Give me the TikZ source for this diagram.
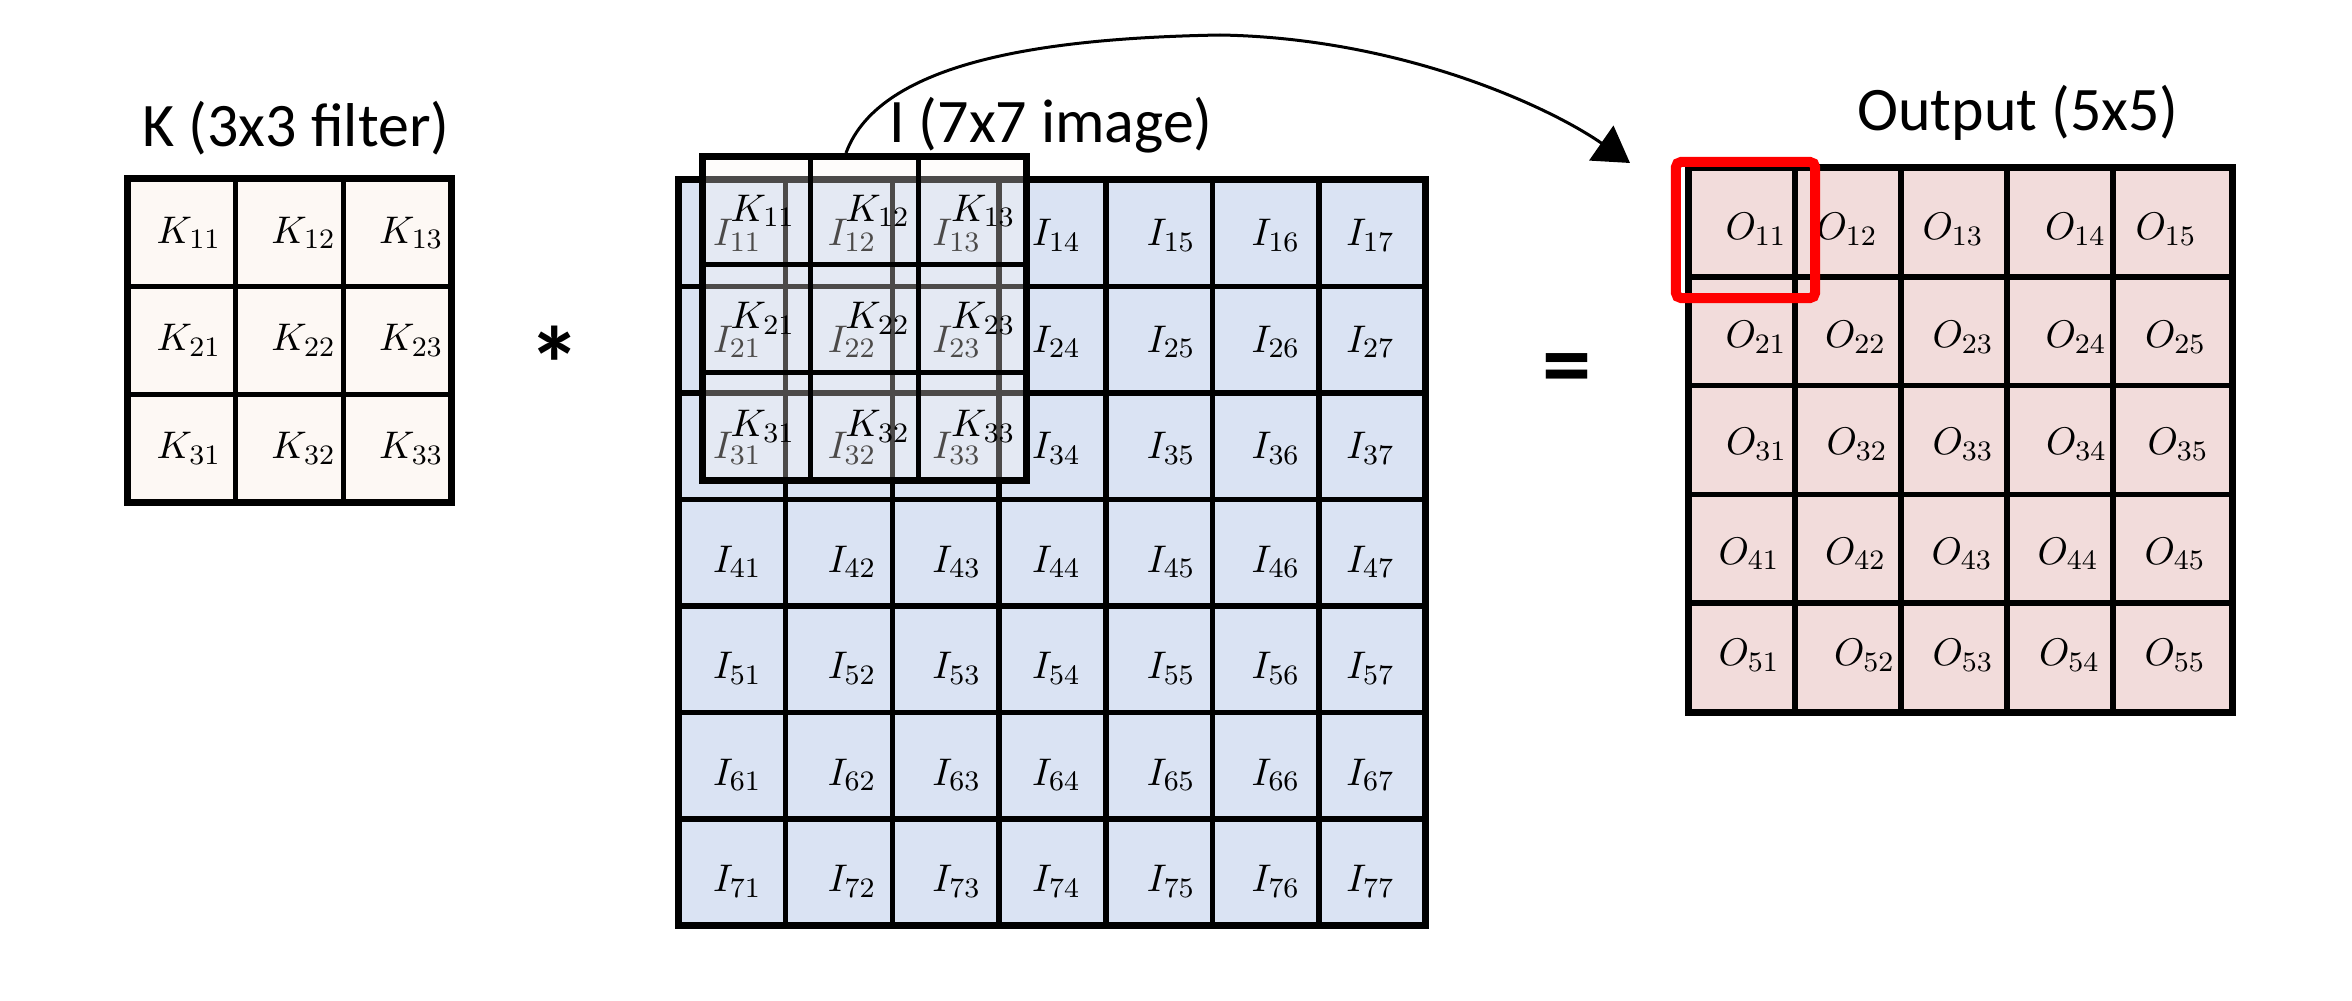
\documentclass[tikz,border=0pt]{standalone}
\usepackage{fontspec}
\setmainfont{Carlito}
\usetikzlibrary{arrows.meta,calc}
\definecolor{kfill}{HTML}{FDF8F4}
\definecolor{ifill}{HTML}{DAE3F3}
\definecolor{ofill}{HTML}{F2DCDB}
\begin{document}
\begin{tikzpicture}[x=0.01cm, y=-0.01cm,
  cellbase/.style={rectangle, inner sep=0pt, outer sep=0pt, draw=black, line width=0.055cm},
  kcell/.style={cellbase, fill=kfill, minimum width=1.077cm, minimum height=1.077cm},
  icell/.style={cellbase, fill=ifill, minimum width=1.067cm, minimum height=1.065cm},
  ocell/.style={cellbase, fill=ofill, minimum height=1.088cm},
  wcell/.style={cellbase, fill=kfill, fill opacity=0.3, draw opacity=1, minimum width=1.077cm, minimum height=1.077cm},
  border/.style={draw=black, line width=0.07cm},
  mlab/.style={inner sep=0pt, font=\fontsize{11pt}{13pt}\selectfont},
  title/.style={inner sep=0pt, font=\fontsize{17.6pt}{21pt}\selectfont},
  opsign/.style={inner sep=0pt, font=\fontsize{#1}{30pt}\selectfont\bfseries},
  redframe/.style={draw=red, line width=0.1cm, rounded corners=0.05cm, minimum width=1.39cm, minimum height=1.36cm, inner sep=0pt},
  conn/.style={draw=black, line width=0.03cm, -{Triangle[length=0.35cm,width=0.42cm]}}
]
\fill[white] (0,0) rectangle (2352,1000);
\useasboundingbox (0,0) rectangle (2352,1000);

% ---- K grid ----
\foreach \r in {1,2,3} \foreach \c in {1,2,3} {
  \node[kcell] (k\r\c) at ({128+(\c-0.5)*107.7},{179+(\r-0.5)*107.7}) {};
}
\draw[border] (k11.north west) rectangle (k33.south east);
\foreach \c/\dx in {1/7,2/14,3/14} \foreach \r in {1,2,3} {
  \node[mlab] (kl\r\c) at ($(k\r\c.center)+(\dx,0)$) {$K_{\r\c}$};
}

% ---- I grid ----
\foreach \r in {1,...,7} \foreach \c in {1,...,7} {
  \node[icell] (i\r\c) at ({679+(\c-0.5)*106.7},{180+(\r-0.5)*106.5}) {};
}
\draw[border] (i11.north west) rectangle (i77.south east);
\foreach \c/\dx in {1/5,2/13,3/11,4/4,5/12,6/10,7/-2} \foreach \r in {1,...,7} {
  \pgfmathsetmacro{\dy}{ifthenelse(\r<4,2,9)}
  \node[mlab] (il\r\c) at ($(i\r\c.center)+(\dx,\dy)$) {$I_{\r\c}$};
}

% ---- sliding window (K over I) ----
\foreach \r in {1,2,3} \foreach \c in {1,2,3} {
  \node[wcell] (w\r\c) at ({703+(\c-0.5)*107.7},{157+(\r-0.5)*107.7}) {};
}
\draw[border] (w11.north west) rectangle (w33.south east);
\foreach \c/\dx in {1/6,2/13,3/11} \foreach \r in {1,2,3} {
  \node[mlab] (wl\r\c) at ($(w\r\c.center)+(\dx,0)$) {$K_{\r\c}$};
}

% ---- Output grid ----
\foreach \c/\xa/\xb in {1/1688/1795,2/1795/1901,3/1901/2007,4/2007/2113,5/2113/2232}
  \foreach \r in {1,...,5} {
    \node[ocell, minimum width={(\xb-\xa)*0.01cm}] (o\r\c) at ({(\xa+\xb)/2},{168+(\r-0.5)*108.8}) {};
  }
\draw[border] (o11.north west) rectangle (o55.south east);
\foreach \r/\dy/\da/\db/\dc/\dd/\de in {1/7/14.5/-1/-1/15.5/-6.5, 2/6/14.5/7.5/9/16/3, 3/4/15/9/9/16.5/5.5, 4/5/7.5/7.5/8/8/2.5, 5/-2/7.5/16.5/9/9.5/2.5} {
  \foreach \c/\dx in {1/\da,2/\db,3/\dc,4/\dd,5/\de} {
    \node[mlab] (ol\r\c) at ($(o\r\c.center)+(\dx,\dy)$) {$O_{\r\c}$};
  }
}

% ---- red frame on O11 ----
\node[redframe] (rf) at (1745.5,230) {};

% ---- arrow ----
\coordinate (as) at (846,153);
\coordinate (ae) at (1630,163);
\draw[conn] (as) .. controls (880,60) and (1050,38) .. (1220,35) .. controls (1400,38) and (1548,106) .. (ae);

% ---- titles ----
\node[title, anchor=base] (kt) at (296,146) {K (3x3 filter)};
\node[title, anchor=base] (it) at (1051,142) {I (7x7 image)};
\node[title, anchor=base] (ot) at (2018,130) {Output (5x5)};

% ---- operators ----
\node[opsign=30pt] (star) at (555,364) {*};
\node[opsign=28pt] (eq) at (1567,376) {=};
\end{tikzpicture}
\end{document}
